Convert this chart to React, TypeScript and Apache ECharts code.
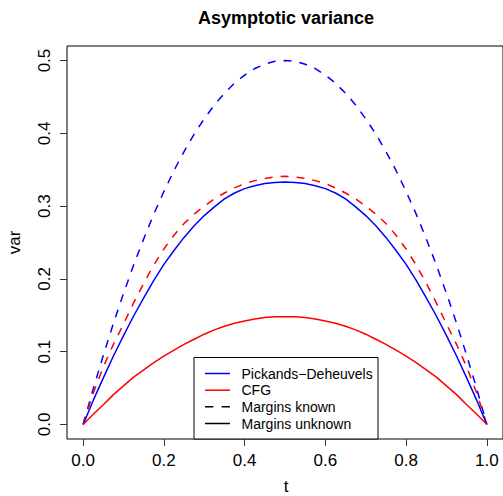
import React, { useEffect, useRef } from "react";
import * as echarts from "echarts";

const tValues = [
  0, 0.025, 0.05, 0.075, 0.1, 0.125, 0.15, 0.175, 0.2, 0.225, 0.25, 0.275, 0.3, 0.325, 0.35, 0.375, 0.4, 0.425, 0.45, 0.475, 0.5,
  0.525, 0.55, 0.575, 0.6, 0.625, 0.65, 0.675, 0.7, 0.725, 0.75, 0.775, 0.8, 0.825, 0.85, 0.875, 0.9, 0.925, 0.95, 0.975, 1.0,
];
const pdKnown = [
  0, 0.049, 0.095, 0.139, 0.18, 0.219, 0.255, 0.289, 0.32, 0.349, 0.375, 0.399, 0.42, 0.439, 0.455, 0.469, 0.48, 0.489, 0.495, 0.499, 0.5,
  0.499, 0.495, 0.489, 0.48, 0.469, 0.455, 0.439, 0.42, 0.399, 0.375, 0.349, 0.32, 0.289, 0.255, 0.219, 0.18, 0.139, 0.095, 0.049, 0,
];
const cfgKnown = [
  0, 0.043, 0.079, 0.11, 0.138, 0.167, 0.194, 0.219, 0.241, 0.26, 0.276, 0.289, 0.3, 0.31, 0.318, 0.325, 0.331, 0.335, 0.338, 0.34, 0.341,
  0.34, 0.338, 0.335, 0.331, 0.325, 0.318, 0.31, 0.3, 0.289, 0.276, 0.26, 0.241, 0.219, 0.194, 0.167, 0.138, 0.11, 0.079, 0.043, 0,
];
const pdUnknown = [
  0, 0.033, 0.064, 0.094, 0.122, 0.149, 0.174, 0.198, 0.22, 0.239, 0.257, 0.273, 0.287, 0.299, 0.31, 0.318, 0.324, 0.328, 0.331, 0.3325, 0.333,
  0.3325, 0.331, 0.328, 0.324, 0.318, 0.31, 0.299, 0.287, 0.273, 0.257, 0.239, 0.22, 0.198, 0.174, 0.149, 0.122, 0.094, 0.064, 0.033, 0,
];
const cfgUnknown = [
  0, 0.014, 0.027, 0.041, 0.053, 0.065, 0.075, 0.085, 0.094, 0.102, 0.11, 0.117, 0.124, 0.13, 0.135, 0.139, 0.142, 0.145, 0.147, 0.148, 0.148,
  0.148, 0.147, 0.145, 0.142, 0.139, 0.135, 0.13, 0.124, 0.117, 0.11, 0.102, 0.094, 0.085, 0.075, 0.065, 0.053, 0.041, 0.027, 0.014, 0,
];

const xTicks = [0, 0.2, 0.4, 0.6, 0.8, 1.0];
const yTicks = [0, 0.1, 0.2, 0.3, 0.4, 0.5];
const legendLabels = ["Pickands\u2212Deheuvels", "CFG", "Margins known", "Margins unknown"];
const titleText = "Asymptotic variance";
const xName = "t";
const yName = "var";

export default function App() {
  const ref = useRef<HTMLDivElement>(null);
  useEffect(() => {
    const chart = echarts.init(ref.current!, null, { renderer: "svg" });
    const font = "'Liberation Sans', Arial, Helvetica, sans-serif";
    const pairs = (ys: number[]) => tValues.map((x, i) => [x, ys[i]]);
    const mkSeries = (name: string, ys: number[], color: string, dashed: boolean) => ({
      name,
      type: "line",
      data: pairs(ys),
      showSymbol: false,
      symbol: "none",
      smooth: false,
      lineStyle: { color, width: 1.5, type: dashed ? [8, 8] : "solid" },
      z: 3,
    });
    const txt = (text: string, x: number, y: number, size: number, opts: any = {}) => ({
      type: "text",
      x,
      y,
      rotation: opts.rotation || 0,
      z: 100,
      style: {
        text,
        fill: "#000",
        fontSize: size,
        fontFamily: font,
        fontWeight: opts.bold ? "bold" : "normal",
        align: opts.align || "center",
        verticalAlign: "middle",
        textAlign: opts.align || "center",
        textVerticalAlign: "middle",
      },
    });
    const legendRows = [373.5, 390.2, 406.8, 423.5];
    const legendColors = ["#0000ff", "#ff0000", "#000000", "#000000"];
    const legendDash = [false, false, true, false];
    const legendEls: any[] = [
      {
        type: "rect",
        shape: { x: 194, y: 357.5, width: 184, height: 81.5 },
        style: { fill: "#fff", stroke: "#000", lineWidth: 1 },
        z: 90,
      },
    ];
    legendLabels.forEach((lab, i) => {
      legendEls.push({
        type: "line",
        shape: { x1: 205, y1: legendRows[i], x2: 230, y2: legendRows[i] },
        style: { stroke: legendColors[i], lineWidth: 1.5, lineDash: legendDash[i] ? [8.3, 8.3] : null },
        z: 95,
      });
      legendEls.push(txt(lab, 241.5, legendRows[i], 14, { align: "left" }));
    });

    chart.setOption({
      animation: false,
      backgroundColor: "#fff",
      textStyle: { fontFamily: font },
      grid: {
        left: 67,
        top: 46,
        width: 438,
        height: 393,
        show: true,
        borderColor: "#000",
        borderWidth: 1,
        backgroundColor: "transparent",
        containLabel: false,
      },
      xAxis: {
        type: "value",
        min: -0.04,
        max: 1.04,
        axisLine: { show: false, onZero: false },
        splitLine: { show: false },
        axisTick: { show: true, inside: false, length: 7, customValues: xTicks, lineStyle: { color: "#333", width: 1 } },
        axisLabel: {
          customValues: xTicks,
          formatter: (v: number) => v.toFixed(1),
          fontSize: 17,
          color: "#000",
          margin: 13,
          fontFamily: font,
        },
      },
      yAxis: {
        type: "value",
        min: -0.02,
        max: 0.52,
        axisLine: { show: false, onZero: false },
        splitLine: { show: false },
        axisTick: { show: true, inside: false, length: 7, customValues: yTicks, lineStyle: { color: "#333", width: 1 } },
        axisLabel: {
          customValues: yTicks,
          formatter: (v: number) => v.toFixed(1),
          fontSize: 17,
          color: "#000",
          margin: 14,
          rotate: 90,
          fontFamily: font,
        },
      },
      series: [
        mkSeries("PD margins known", pdKnown, "#0000ff", true),
        mkSeries("CFG margins known", cfgKnown, "#ff0000", true),
        mkSeries("PD margins unknown", pdUnknown, "#0000ff", false),
        mkSeries("CFG margins unknown", cfgUnknown, "#ff0000", false),
      ],
      graphic: [
        txt(titleText, 286, 17.5, 18, { bold: true }),
        txt(xName, 286, 486, 17),
        txt(yName, 14, 242.5, 17, { rotation: Math.PI / 2 }),
        ...legendEls,
      ],
    });
    return () => chart.dispose();
  }, []);
  return (
    <div
      ref={ref}
      style={{ position: "fixed", left: 0, top: 0, width: 503, height: 496, background: "#fff" }}
    />
  );
}
